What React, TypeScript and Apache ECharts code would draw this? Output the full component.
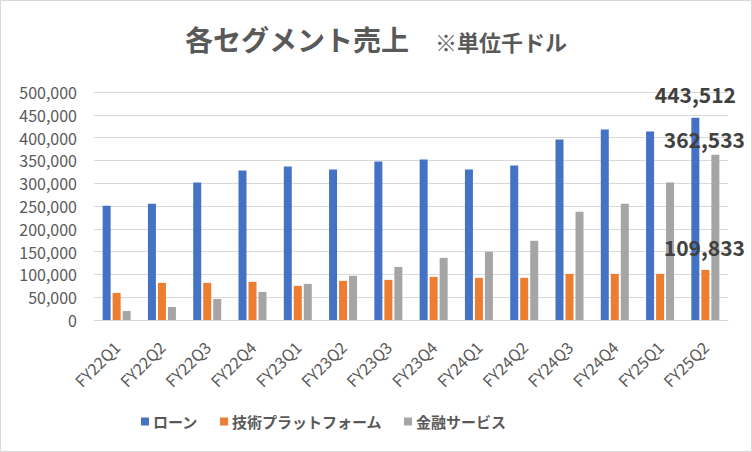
import React, { useEffect, useRef } from "react";
import * as echarts from "echarts";

const categories = [
  "FY22Q1", "FY22Q2", "FY22Q3", "FY22Q4",
  "FY23Q1", "FY23Q2", "FY23Q3", "FY23Q4",
  "FY24Q1", "FY24Q2", "FY24Q3", "FY24Q4",
  "FY25Q1", "FY25Q2",
];
const loan = [250700, 255100, 301300, 327700, 336400, 329900, 347400, 351800, 329900, 338600, 395800, 417800, 413400, 443512];
const techPlatform = [59400, 81400, 81400, 83600, 74800, 85800, 88000, 94600, 92400, 92400, 101200, 101200, 101200, 109833];
const finance = [19800, 28600, 46200, 61600, 79200, 96800, 116500, 136300, 149500, 173700, 237500, 255100, 301300, 362533];
const seriesNames = ["ローン", "技術プラットフォーム", "金融サービス"];
const colors = ["#4472C4", "#ED7D31", "#A5A5A5"];
const yTicks = { min: 0, max: 500000, interval: 50000 };

const FONT = "'Noto Sans CJK JP', 'Noto Sans', sans-serif";
const labelOffsets: [number, number][] = [[0, -8], [-1, -7], [-11, 0]];

function withLastLabel(values: number[], idx: number) {
  return values.map((v, i) =>
    i === values.length - 1
      ? {
          value: v,
          label: {
            show: true,
            position: "top",
            offset: labelOffsets[idx],
            formatter: (p: any) => Number(p.value).toLocaleString("en-US"),
            fontSize: 21,
            fontWeight: "bold",
            color: "#404040",
            fontFamily: FONT,
          },
        }
      : v
  );
}

export default function App() {
  const ref = useRef<HTMLDivElement>(null);
  useEffect(() => {
    if (!ref.current) return;
    const chart = echarts.init(ref.current, undefined, { renderer: "svg" });
    const dataSets = [loan, techPlatform, finance];
    chart.setOption({
      animation: false,
      backgroundColor: "#ffffff",
      title: {
        left: "center",
        top: 20,
        text: "{a|各セグメント売上}{s| }{b|※単位千ドル}",
        textStyle: {
          rich: {
            a: { fontSize: 28, fontWeight: "bold", color: "#595959", fontFamily: FONT },
            s: { fontSize: 22, width: 26, fontFamily: FONT },
            b: { fontSize: 22, fontWeight: "bold", color: "#595959", fontFamily: FONT, padding: [4, 0, 0, 0] },
          },
        },
      },
      graphic: [
        {
          type: "rect",
          shape: { x: 0.5, y: 0.5, width: 751, height: 451 },
          style: { fill: "none", stroke: "#d9d9d9", lineWidth: 1 },
          silent: true,
        },
      ],
      legend: {
        left: 136,
        top: 409,
        itemWidth: 8,
        itemHeight: 8,
        itemGap: 22,
        icon: "rect",
        textStyle: { fontSize: 15, fontWeight: "bold", color: "#595959", fontFamily: FONT, padding: [0, 0, 0, -1] },
        data: seriesNames,
      },
      grid: { left: 94, right: 24, top: 92, bottom: 132 },
      xAxis: {
        type: "category",
        data: categories,
        axisLine: { lineStyle: { color: "#d9d9d9", width: 1 } },
        axisTick: { show: false },
        axisLabel: { rotate: 45, fontSize: 16, color: "#595959", fontFamily: FONT, margin: 24, interval: 0 },
      },
      yAxis: {
        type: "value",
        min: yTicks.min,
        max: yTicks.max,
        interval: yTicks.interval,
        axisLine: { show: false },
        axisTick: { show: false },
        splitLine: { lineStyle: { color: "#d9d9d9", width: 1 } },
        axisLabel: {
          fontSize: 16,
          color: "#595959",
          fontFamily: FONT,
          margin: 17,
          formatter: (v: number) => v.toLocaleString("en-US"),
        },
      },
      series: dataSets.map((d, i) => ({
        name: seriesNames[i],
        type: "bar",
        data: withLastLabel(d, i),
        barWidth: 8,
        barGap: "25%",
        itemStyle: { color: colors[i] },
      })),
    });
    return () => chart.dispose();
  }, []);
  return (
    <div
      ref={ref}
      style={{ position: "absolute", left: 0, top: 0, width: 752, height: 452 }}
    />
  );
}
